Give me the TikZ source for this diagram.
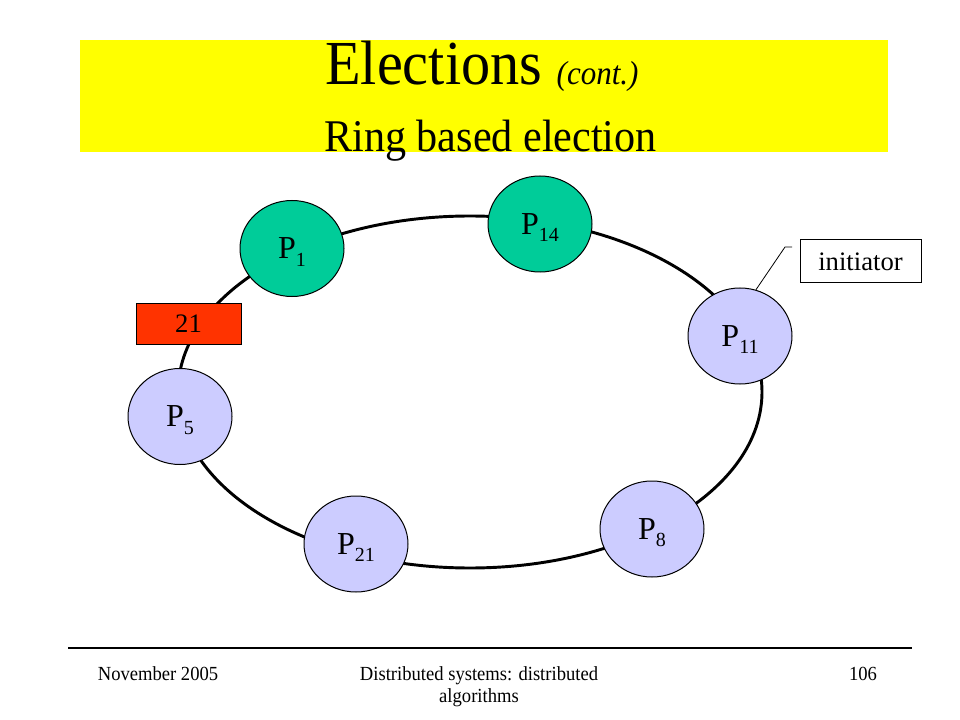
\documentclass[tikz,border=0pt]{standalone}
\usepackage{fontspec}
\setmainfont{Liberation Serif}
\newfontfamily\narrowserif[FakeStretch=0.93]{Liberation Serif}
\usetikzlibrary{shapes.geometric}
\definecolor{ttlyellow}{HTML}{FFFF00}
\definecolor{pgreen}{HTML}{00CC99}
\definecolor{pblue}{HTML}{CCCCFF}
\definecolor{msgred}{HTML}{FF3300}
\newcommand\Pn[1]{P\raisebox{-5.5pt}[0pt][0pt]{\fontsize{15}{15}\selectfont #1}}
\begin{document}
\begin{tikzpicture}[x=0.75pt,y=-0.75pt,
  proc/.style={ellipse,draw=black,line width=0.75pt,minimum width=78pt,minimum height=72pt,inner sep=0pt,font=\fontsize{24}{24}\selectfont},
  greenproc/.style={proc,fill=pgreen},
  blueproc/.style={proc,fill=pblue},
  ring/.style={ellipse,draw=black,line width=2.2pt,minimum width=438pt,minimum height=264pt,inner sep=0pt},
  msgbox/.style={rectangle,draw=black,line width=0.75pt,fill=msgred,minimum width=78.75pt,minimum height=30pt,inner sep=0pt,font=\fontsize{20}{20}\selectfont},
  notebox/.style={rectangle,draw=black,line width=0.75pt,fill=white,minimum width=90.75pt,minimum height=32.25pt,inner sep=0pt,font=\fontsize{20}{20}\selectfont},
  leader/.style={draw=black,line width=0.6pt},
  foot/.style={inner sep=0pt,font=\narrowserif\fontsize{15}{16.5}\selectfont}
]
\useasboundingbox (0,0) rectangle (960,720);
\fill[white] (0,0) rectangle (960,720);
% title
\node[fill=ttlyellow,minimum width=606pt,minimum height=84pt,inner sep=0pt] (titlebox) at (484,96) {};
\node[anchor=base west,inner sep=0pt] (title) at (325,85) {\narrowserif\fontsize{47}{47}\selectfont Elections \fontsize{25}{25}\selectfont\itshape (cont.)};
\node[anchor=base west,inner sep=0pt] (subtitle) at (324,152) {\narrowserif\fontsize{34}{34}\selectfont Ring based election};
% ring
\node[ring] (ring) at (470,392) {};
% processes
\node[greenproc] (p1) at (292,248.5) {\Pn{1}};
\node[greenproc] (p14) at (540,224) {\Pn{14}};
\node[blueproc] (p11) at (740,336) {\Pn{11}};
\node[blueproc] (p8) at (652,529) {\Pn{8}};
\node[blueproc] (p21) at (356,544) {\Pn{21}};
\node[blueproc] (p5) at (180,416.5) {\Pn{5}};
% message
\node[msgbox] (msg) at (188.5,324) {21};
% initiator callout
\node[notebox] (init) at (860.5,261.5) {initiator};
\coordinate (cbend) at (785,247);
\coordinate (cend) at (792,247);
\draw[leader] (p11.71) -- (cbend) -- (cend);
% footer
\coordinate (fl) at (68,648);
\coordinate (fr) at (912,648);
\draw[line width=2.2pt] (fl) -- (fr);
\node[foot,anchor=base] (date) at (158,680) {November 2005};
\node[foot,anchor=base,align=center] (course) at (479,702) {Distributed systems: distributed\\algorithms};
\node[foot,anchor=base] (page) at (863,680) {106};
\end{tikzpicture}
\end{document}
